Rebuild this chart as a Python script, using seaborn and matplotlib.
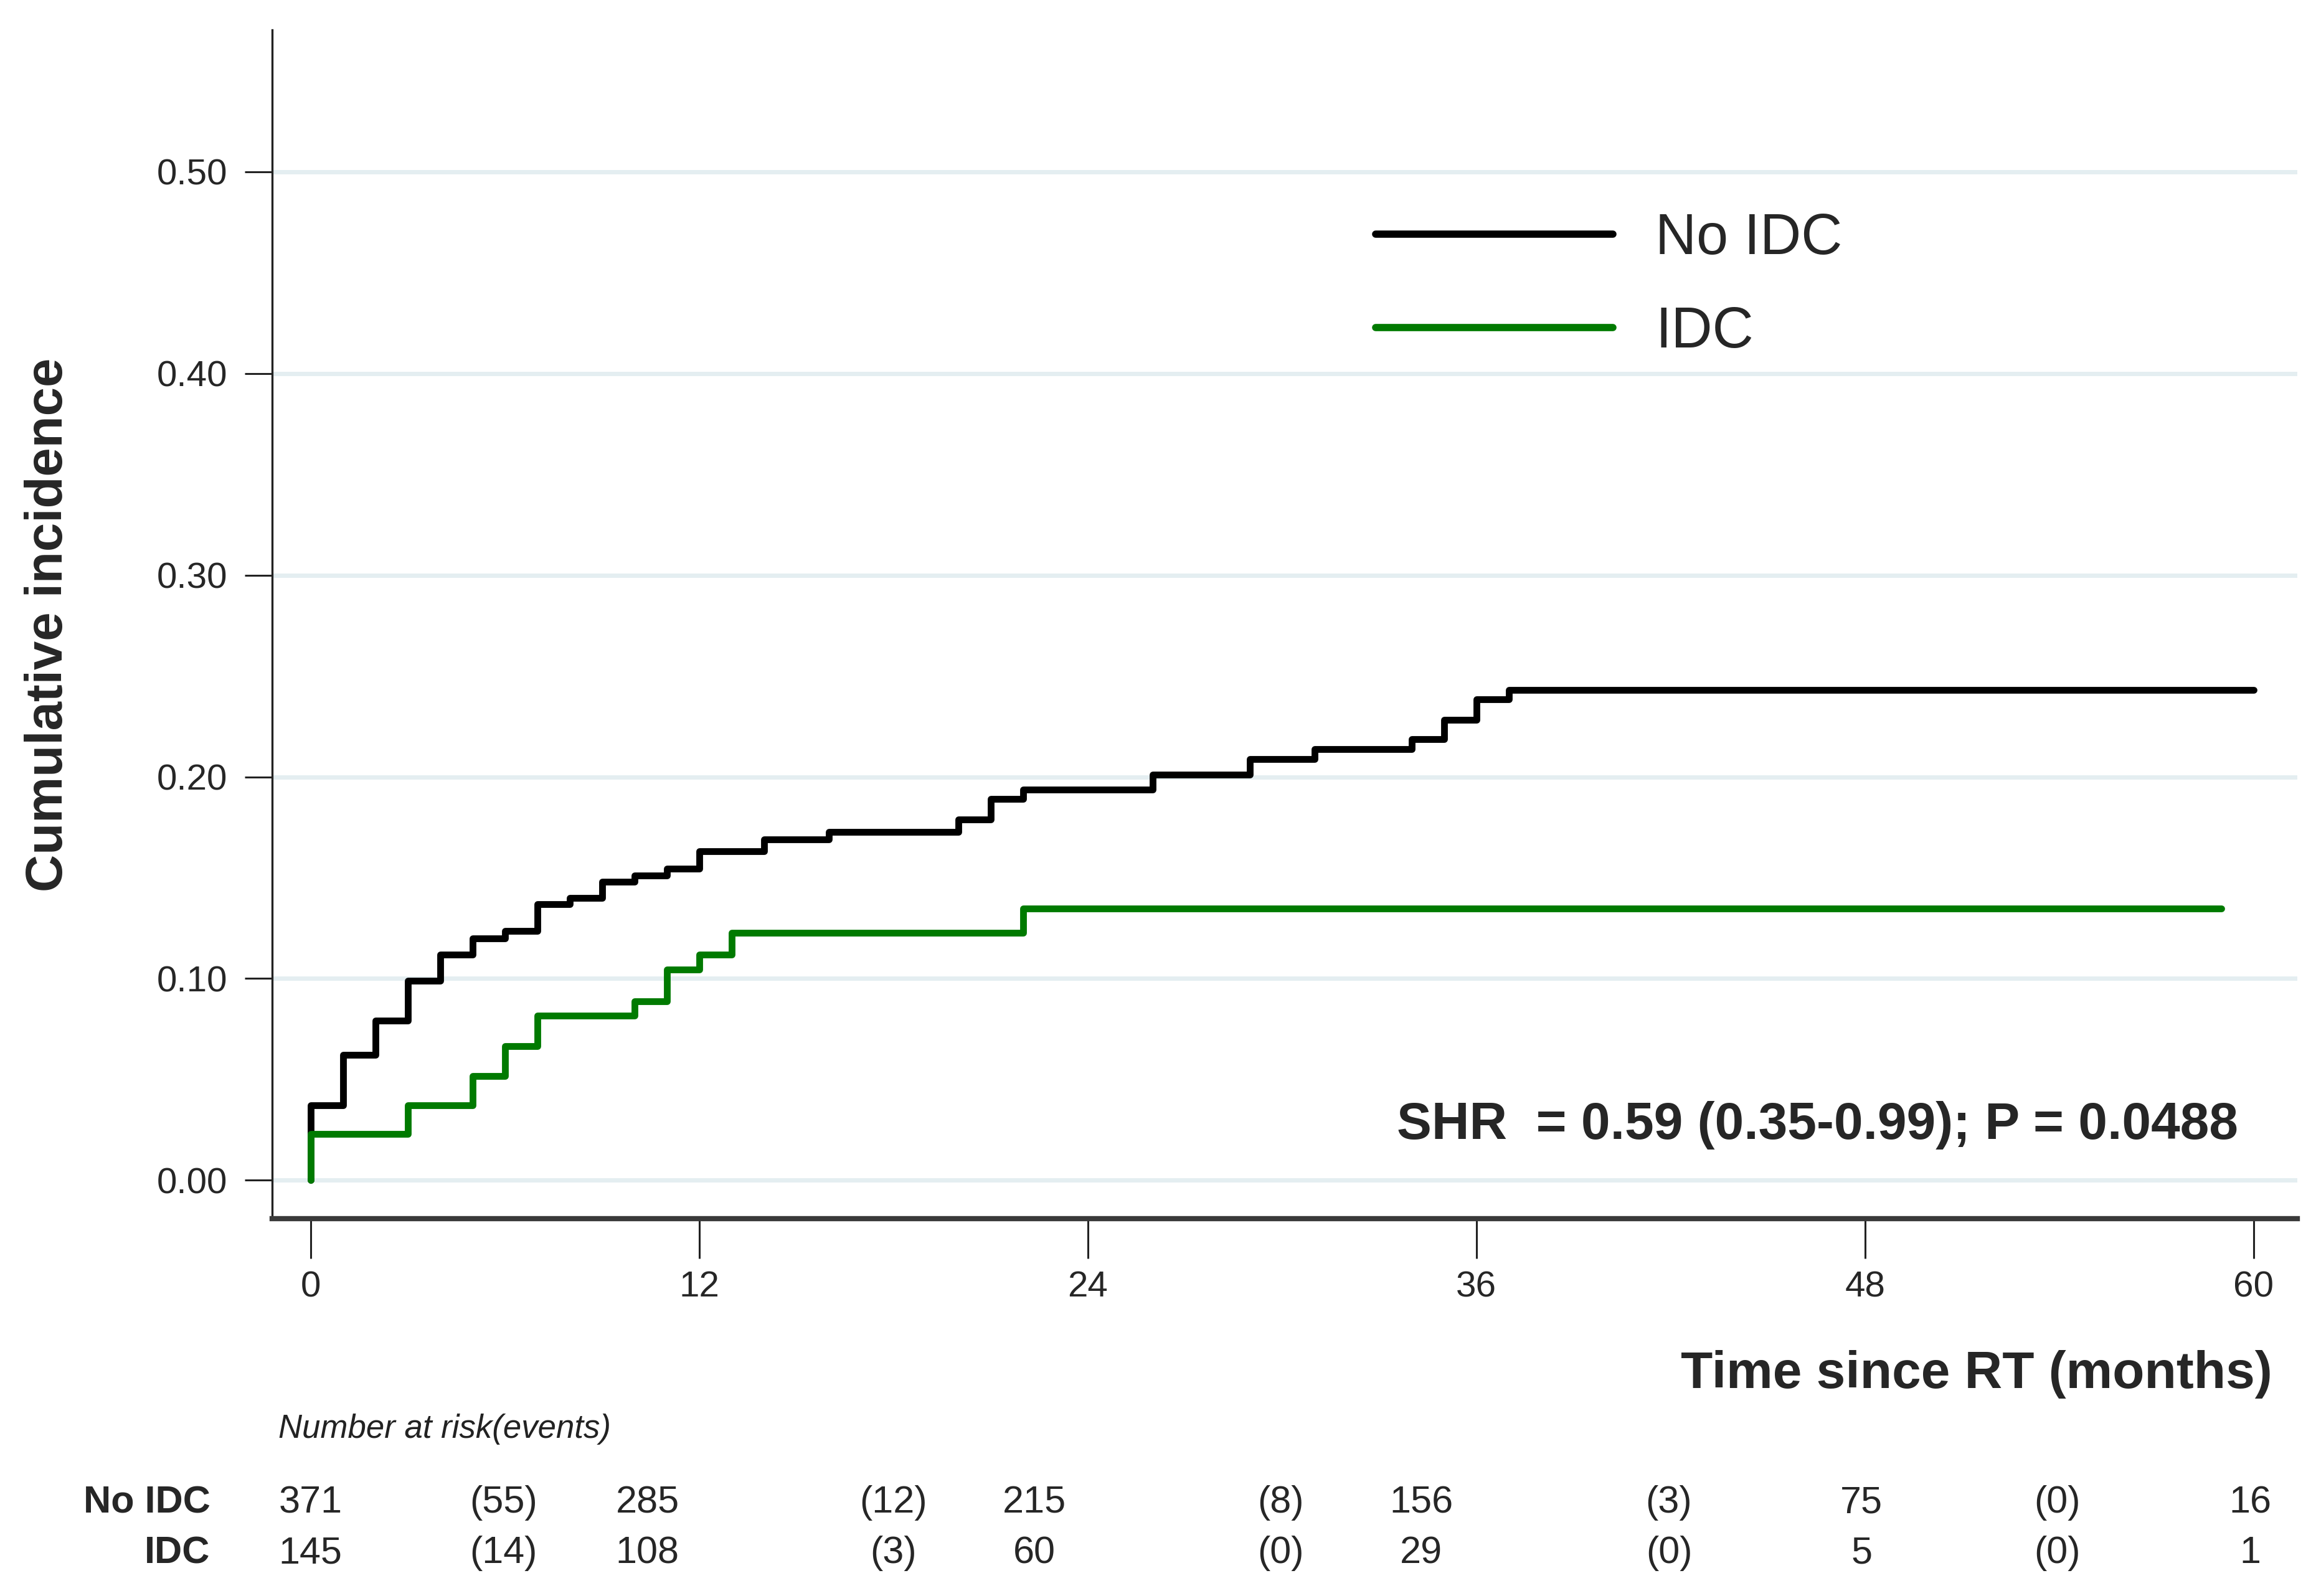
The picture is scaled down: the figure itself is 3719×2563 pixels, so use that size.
import pandas as pd
import matplotlib.pyplot as plt
import matplotlib.transforms as mtransforms
from matplotlib.lines import Line2D
import seaborn as sns

# Cumulative incidence step points
t_noidc = [0, 0, 1, 2, 3, 4, 5, 6, 7, 8, 9, 10, 11, 12, 14, 16, 20, 21, 22, 26, 29, 31, 34, 35, 36, 37, 60]
ci_noidc = [0, 0.037, 0.062, 0.079, 0.099, 0.112, 0.120, 0.1235, 0.137, 0.140, 0.148, 0.151, 0.1545,
            0.163, 0.169, 0.1727, 0.179, 0.189, 0.1936, 0.201, 0.2088, 0.2138, 0.2186, 0.2283,
            0.2384, 0.2432, 0.2432]
t_idc = [0, 0, 3, 5, 6, 7, 10, 11, 12, 13, 22, 59]
ci_idc = [0, 0.023, 0.037, 0.0517, 0.0666, 0.0815, 0.0886, 0.1044, 0.112, 0.1226, 0.1346, 0.1346]

groups = ["No IDC", "IDC"]
farger = {"No IDC": "black", "IDC": "#007a00"}

# Number at risk table (columns sit where the original put them)
risk_noidc = ["371", "285", "215", "156", "75", "16"]
risk_idc = ["145", "108", "60", "29", "5", "1"]
events_noidc = ["(55)", "(12)", "(8)", "(3)", "(0)"]
events_idc = ["(14)", "(3)", "(0)", "(0)", "(0)"]
risk_kol = [0, 10.4, 22.35, 34.3, 47.9, 59.9]
event_kol = [5.95, 18, 29.95, 41.95, 53.95]

x_ticks = [0, 12, 24, 36, 48, 60]
y_ticks = [0.0, 0.1, 0.2, 0.3, 0.4, 0.5]

df = pd.concat([
    pd.DataFrame({"tid": t_noidc, "ci": ci_noidc, "gruppe": "No IDC"}),
    pd.DataFrame({"tid": t_idc, "ci": ci_idc, "gruppe": "IDC"}),
], ignore_index=True)

sns.set_theme(style="white")
plt.rcParams['font.family'] = ['Liberation Sans', 'DejaVu Sans']

fig = plt.figure(figsize=(18.595, 12.815), dpi=200)
ax = fig.add_axes([0.1175, 0.2364, 0.8745, 0.7449])

sns.lineplot(data=df, x="tid", y="ci", hue="gruppe", hue_order=groups, palette=farger,
             estimator=None, sort=False, drawstyle="steps-post", linewidth=3.9,
             legend=False, ax=ax)

ax.set_xlim(-1.19, 61.36)
ax.set_ylim(-0.0191, 0.5704)
ax.set_xticks(x_ticks)
ax.set_yticks(y_ticks)
ax.set_yticklabels([f"{v:.2f}" for v in y_ticks])
ax.yaxis.grid(True, color="#e4eef1", linewidth=2.5)
ax.xaxis.grid(False)
ax.set_axisbelow(True)
ax.set_xlabel("")
ax.set_ylabel("")

for side in ["top", "right"]:
    ax.spines[side].set_visible(False)
ax.spines["left"].set_color("#222222")
ax.spines["left"].set_linewidth(1.2)
ax.spines["bottom"].set_color("#3a3a3a")
ax.spines["bottom"].set_linewidth(3.0)

ax.tick_params(axis="x", direction="out", length=23, width=1.1, color="#222222",
               labelsize=21, pad=7, bottom=True)
ax.tick_params(axis="y", direction="out", length=16, width=1.1, color="#222222",
               labelsize=21, pad=10, left=True)

# Legend
handles = [Line2D([], [], color=farger[g], linewidth=4.2) for g in groups]
ax.legend(handles, groups, loc="upper left", bbox_to_anchor=(0.594, 0.867),
          bbox_transform=fig.transFigure, frameon=False, fontsize=33,
          handlelength=4.15, handletextpad=0.75, labelspacing=0.7,
          borderpad=0, borderaxespad=0)

fig.text(0.9665, 0.2949, "SHR  = 0.59 (0.35-0.99); P = 0.0488", ha="right", va="center",
         fontsize=30.2, fontweight="bold")

fig.text(0.981, 0.139, "Time since RT (months)", ha="right", va="center",
         fontsize=30.2, fontweight="bold")
fig.text(0.0211, 0.6085, "Cumulative incidence", ha="center", va="center", rotation=90,
         fontsize=30, fontweight="bold")

# Number at risk table under the axis
trans = mtransforms.blended_transform_factory(ax.transData, fig.transFigure)
fig.text(0.1202, 0.1047, "Number at risk(events)", ha="left", va="center",
         fontsize=19, style="italic", color="#222222")
rad_y = {"No IDC": 0.0583, "IDC": 0.0267}
for g in groups:
    fig.text(0.0908, rad_y[g], g, ha="right", va="center", fontsize=22, fontweight="bold")
for t, a, b in zip(risk_kol, risk_noidc, risk_idc):
    ax.text(t, rad_y["No IDC"], a, transform=trans, ha="center", va="center", fontsize=22)
    ax.text(t, rad_y["IDC"], b, transform=trans, ha="center", va="center", fontsize=22)
for t, a, b in zip(event_kol, events_noidc, events_idc):
    ax.text(t, rad_y["No IDC"], a, transform=trans, ha="center", va="center", fontsize=22)
    ax.text(t, rad_y["IDC"], b, transform=trans, ha="center", va="center", fontsize=22)

fig.savefig("out.png", dpi=200)
